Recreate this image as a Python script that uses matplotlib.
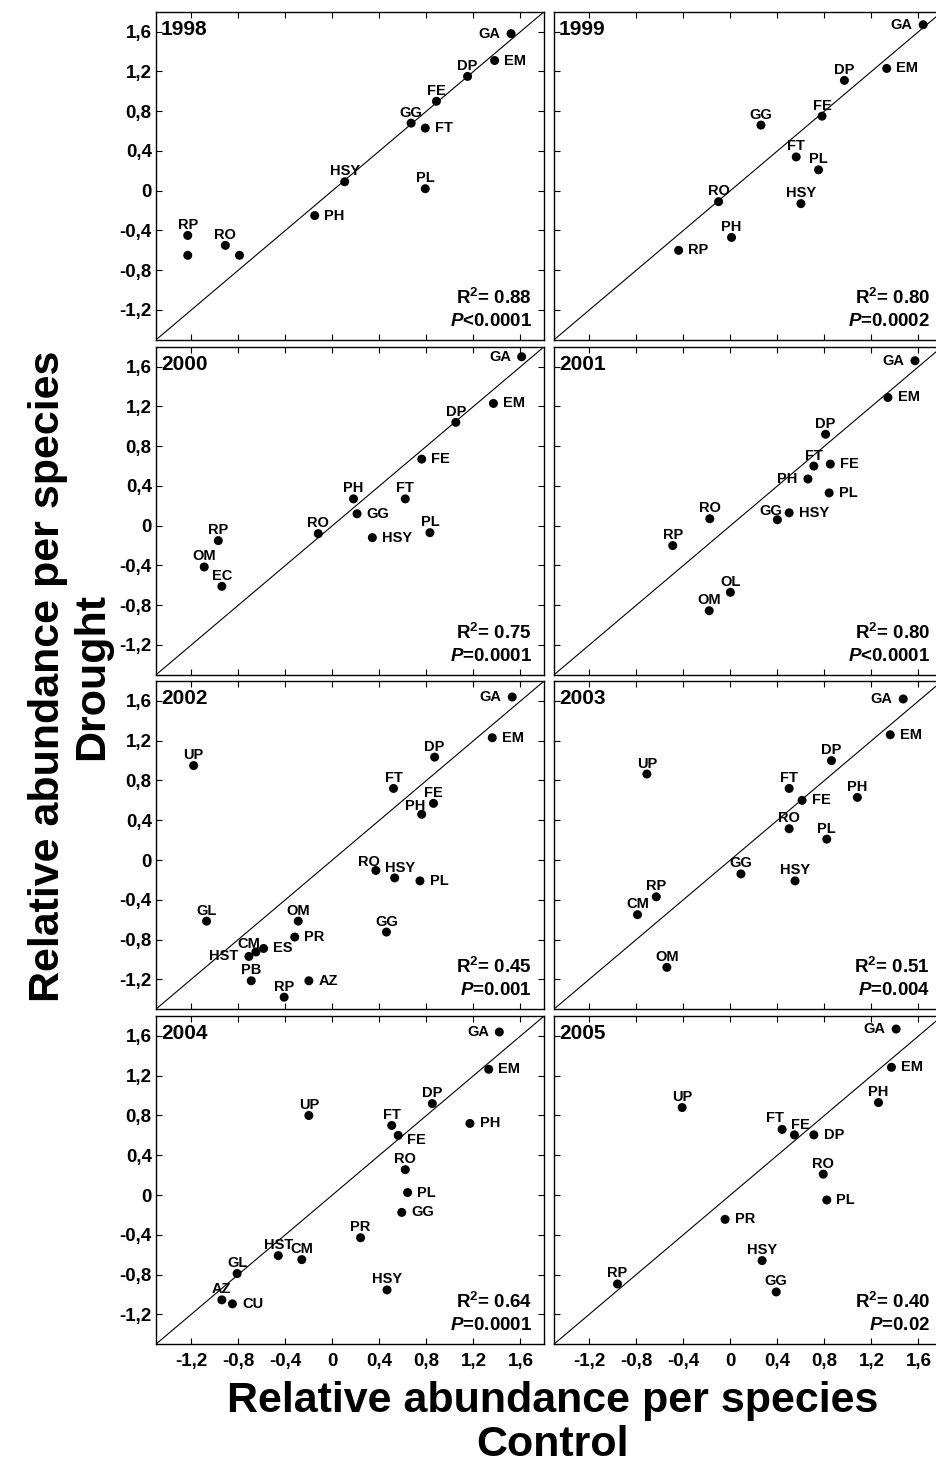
import matplotlib
matplotlib.use("Agg")
import matplotlib.pyplot as plt
from matplotlib.ticker import FixedLocator, FuncFormatter

plt.rcParams['font.family'] = ['Liberation Sans', 'DejaVu Sans']
plt.rcParams['font.weight'] = 'bold'
plt.rcParams['axes.unicode_minus'] = False
plt.rcParams['mathtext.fontset'] = 'custom'
plt.rcParams['mathtext.rm'] = 'Liberation Sans:bold'
plt.rcParams['mathtext.bf'] = 'Liberation Sans:bold'
plt.rcParams['mathtext.it'] = 'Liberation Sans:bold:italic'

# ---------------- data: relative abundance per species (control vs drought) ----------------
years = [1998, 1999, 2000, 2001, 2002, 2003, 2004, 2005]
r2_values = [0.88, 0.80, 0.75, 0.80, 0.45, 0.51, 0.64, 0.40]
p_texts = ['<0.0001', '=0.0002', '=0.0001', '<0.0001', '=0.001', '=0.004', '=0.0001', '=0.02']
tick_values = [-1.2, -0.8, -0.4, 0, 0.4, 0.8, 1.2, 1.6]

species_1998 = ['GA', 'EM', 'DP', 'FE', 'GG', 'FT', 'HSY', 'PL', 'PH', 'RP', '', 'RO', '']
control_1998 = [1.52, 1.38, 1.15, 0.885, 0.67, 0.79, 0.105, 0.79, -0.15, -1.23, -1.23, -0.91, -0.79]
drought_1998 = [1.58, 1.31, 1.15, 0.90, 0.68, 0.63, 0.09, 0.02, -0.25, -0.45, -0.65, -0.55, -0.65]

species_1999 = ['GA', 'EM', 'DP', 'FE', 'GG', 'FT', 'PL', 'HSY', 'RO', 'PH', 'RP']
control_1999 = [1.64, 1.33, 0.97, 0.78, 0.26, 0.56, 0.75, 0.60, -0.10, 0.01, -0.44]
drought_1999 = [1.67, 1.23, 1.11, 0.75, 0.66, 0.34, 0.21, -0.13, -0.11, -0.47, -0.60]

species_2000 = ['GA', 'EM', 'DP', 'FE', 'PH', 'FT', 'GG', 'PL', 'HSY', 'RO', 'RP', 'OM', 'EC']
control_2000 = [1.61, 1.37, 1.05, 0.76, 0.18, 0.62, 0.21, 0.83, 0.34, -0.12, -0.97, -1.09, -0.94]
drought_2000 = [1.70, 1.23, 1.04, 0.67, 0.27, 0.27, 0.12, -0.07, -0.12, -0.08, -0.15, -0.415, -0.61]

species_2001 = ['GA', 'EM', 'DP', 'FT', 'FE', 'PH', 'PL', 'GG', 'HSY', 'RO', 'RP', 'OL', 'OM']
control_2001 = [1.57, 1.34, 0.81, 0.71, 0.85, 0.66, 0.84, 0.40, 0.50, -0.175, -0.49, 0.0, -0.18]
drought_2001 = [1.66, 1.29, 0.92, 0.60, 0.62, 0.47, 0.33, 0.06, 0.13, 0.07, -0.20, -0.67, -0.855]

species_2002 = ['GA', 'EM', 'DP', 'FT', 'FE', 'PH', 'UP', 'RO', 'HSY', 'PL', 'GG', 'GL', 'OM',
                'PR', 'CM', 'ES', 'HST', 'PB', 'AZ', 'RP']
control_2002 = [1.53, 1.36, 0.87, 0.52, 0.86, 0.76, -1.18, 0.37, 0.53, 0.745, 0.46, -1.07, -0.29,
                -0.32, -0.65, -0.585, -0.71, -0.69, -0.20, -0.41]
drought_2002 = [1.64, 1.23, 1.035, 0.72, 0.57, 0.46, 0.95, -0.105, -0.18, -0.21, -0.725, -0.615, -0.615,
                -0.775, -0.925, -0.89, -0.97, -1.215, -1.215, -1.38]

species_2003 = ['GA', 'EM', 'DP', 'UP', 'FT', 'FE', 'PH', 'RO', 'PL', 'GG', 'HSY', 'RP', 'CM', 'OM']
control_2003 = [1.47, 1.36, 0.86, -0.71, 0.50, 0.61, 1.08, 0.50, 0.82, 0.09, 0.55, -0.63, -0.79, -0.54]
drought_2003 = [1.62, 1.26, 1.00, 0.865, 0.72, 0.60, 0.63, 0.315, 0.21, -0.14, -0.21, -0.37, -0.55, -1.08]

species_2004 = ['GA', 'EM', 'DP', 'UP', 'FT', 'FE', 'PH', 'RO', 'PL', 'GG', 'PR', 'HST', 'CM', 'GL',
                'HSY', 'AZ', 'CU']
control_2004 = [1.42, 1.33, 0.85, -0.20, 0.505, 0.56, 1.17, 0.62, 0.64, 0.59, 0.24, -0.46, -0.26, -0.81,
                0.465, -0.94, -0.85]
drought_2004 = [1.64, 1.265, 0.92, 0.80, 0.70, 0.60, 0.72, 0.255, 0.025, -0.175, -0.43, -0.61, -0.65, -0.79,
                -0.955, -1.055, -1.095]

species_2005 = ['GA', 'EM', 'PH', 'UP', 'FT', 'FE', 'DP', 'RO', 'PL', 'PR', 'HSY', 'GG', 'RP']
control_2005 = [1.41, 1.37, 1.26, -0.41, 0.44, 0.545, 0.71, 0.79, 0.82, -0.045, 0.27, 0.39, -0.96]
drought_2005 = [1.67, 1.285, 0.93, 0.88, 0.66, 0.605, 0.605, 0.21, -0.05, -0.245, -0.66, -0.975, -0.895]

# ---------------- label placement around each point ----------------
place_1998 = ['w', 'e', 'n', 'n', 'n', 'e', 'n', 'n', 'e', 'n', 'n', 'n', 'n']
place_1999 = ['w', 'e', 'n', 'n', 'n', 'n', 'n', 'n', 'n', 'n', 'e']
place_2000 = ['w', 'e', 'n', 'e', 'n', 'n', 'e', 'n', 'e', 'n', 'n', 'n', 'n']
place_2001 = ['w', 'e', 'n', 'n', 'e', 'w', 'e', 'nw', 'e', 'n', 'n', 'n', 'n']
place_2002 = ['w', 'e', 'n', 'n', 'n', 'nw', 'n', 'nw', 'ne', 'e', 'n', 'n', 'n',
              'e', 'nw', 'e', 'w', 'n', 'e', 'n']
place_2003 = ['w', 'e', 'n', 'n', 'n', 'e', 'n', 'n', 'n', 'n', 'n', 'n', 'n', 'n']
place_2004 = ['w', 'e', 'n', 'n', 'n', 'se', 'e', 'n', 'e', 'e', 'n', 'n', 'n', 'n', 'n', 'n', 'e']
place_2005 = ['w', 'e', 'n', 'n', 'nwh', 'ne', 'e', 'n', 'e', 'e', 'n', 'n', 'n']

panels = [
    (species_1998, control_1998, drought_1998, place_1998),
    (species_1999, control_1999, drought_1999, place_1999),
    (species_2000, control_2000, drought_2000, place_2000),
    (species_2001, control_2001, drought_2001, place_2001),
    (species_2002, control_2002, drought_2002, place_2002),
    (species_2003, control_2003, drought_2003, place_2003),
    (species_2004, control_2004, drought_2004, place_2004),
    (species_2005, control_2005, drought_2005, place_2005),
]

# offsets in points, horizontal / vertical alignment
OFFSETS = {
    'n': ((0, 4.7), 'center', 'baseline'),
    'nw': ((-5, 3.2), 'center', 'baseline'),
    'nwh': ((-5, 5.5), 'center', 'baseline'),
    'ne': ((4, 4.0), 'center', 'baseline'),
    'e': ((7, 0), 'left', 'center'),
    'w': ((-7.5, 0), 'right', 'center'),
    'se': ((6.5, -3), 'left', 'center'),
}

# ---------------- figure layout (pixels at 100 dpi) ----------------
W, H = 936, 1472
fig = plt.figure(figsize=(W / 100, H / 100), dpi=100)

col_left = [156, 554]
row_top = [11.8, 346.8, 681.1, 1016.1]
ax_w, ax_h = 388, 328
lims = (-1.5, 1.8)


def fmt(v, pos):
    if abs(v) < 1e-9:
        return '0'
    return f'{v:.1f}'.replace('.', ',')


for i, (names, ctrl, drt, places) in enumerate(panels):
    r, c = divmod(i, 2)
    left = col_left[c] / W
    bottom = 1 - (row_top[r] + ax_h) / H
    ax = fig.add_axes([left, bottom, ax_w / W, ax_h / H])
    ax.set_xlim(*lims)
    ax.set_ylim(*lims)

    ax.axline((0, 0), slope=1, color='black', lw=0.8, zorder=1)
    ax.scatter(ctrl, drt, s=42, color='black', edgecolors='none', zorder=3)

    for name, x, y, p in zip(names, ctrl, drt, places):
        if not name:
            continue
        (dx, dy), ha, va = OFFSETS[p]
        ax.annotate(name, (x, y), xytext=(dx, dy), textcoords='offset points',
                    ha=ha, va=va, fontsize=10.5, fontweight='bold', zorder=4)

    ax.annotate(str(years[i]), (0, 1), xycoords='axes fraction', xytext=(3.5, -6),
                textcoords='offset points', ha='left', va='top',
                fontsize=15, fontweight='bold')
    ax.annotate(r'$\mathregular{R^2}$= ' + f'{r2_values[i]:.2f}', (1, 0), xycoords='axes fraction',
                xytext=(-8.6, 26), textcoords='offset points', ha='right', va='baseline',
                fontsize=13.5, fontweight='bold')
    ax.annotate(r'$\mathit{P}$' + p_texts[i], (1, 0), xycoords='axes fraction',
                xytext=(-8.6, 10), textcoords='offset points', ha='right', va='baseline',
                fontsize=13.5, fontweight='bold')

    ax.xaxis.set_major_locator(FixedLocator(tick_values))
    ax.yaxis.set_major_locator(FixedLocator(tick_values))
    ax.xaxis.set_major_formatter(FuncFormatter(fmt))
    ax.yaxis.set_major_formatter(FuncFormatter(fmt))
    ax.tick_params(direction='in', length=4.5, width=0.8, top=True, right=True,
                   labelsize=13.5, pad=3)
    ax.tick_params(axis='x', pad=6.5)
    ax.tick_params(labelbottom=(r == 3), labelleft=(c == 0))
    for lab in ax.get_xticklabels() + ax.get_yticklabels():
        lab.set_fontweight('bold')
    for sp in ax.spines.values():
        sp.set_linewidth(1.0)

fig.text(70 / W, 1 - 676 / H, 'Relative abundance per species\nDrought', rotation=90,
         ha='center', va='center', multialignment='center', fontsize=31,
         fontweight='bold', linespacing=1.12)
fig.text(553 / W, 1 - 1423 / H, 'Relative abundance per species\nControl',
         ha='center', va='center', multialignment='center', fontsize=31,
         fontweight='bold', linespacing=1.1)

fig.savefig('out.png', dpi=100)
